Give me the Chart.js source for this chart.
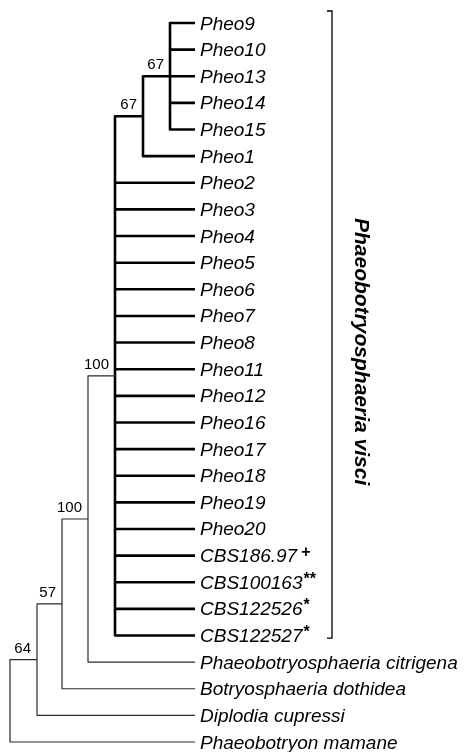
<!DOCTYPE html>
<html>
<head>
<meta charset="utf-8">
<script src="https://cdn.jsdelivr.net/npm/chart.js@4.4.1/dist/chart.umd.min.js"></script>
<style>
html,body{margin:0;padding:0;background:#fff;}
#c{display:block;}
</style>
</head>
<body>
<canvas id="c" width="465" height="752"></canvas>
<script>
// ---- data ----
const leafNames = ['Pheo9','Pheo10','Pheo13','Pheo14','Pheo15','Pheo1','Pheo2','Pheo3','Pheo4','Pheo5',
  'Pheo6','Pheo7','Pheo8','Pheo11','Pheo12','Pheo16','Pheo17','Pheo18','Pheo19','Pheo20',
  'CBS186.97','CBS100163','CBS122526','CBS122527',
  'Phaeobotryosphaeria citrigena','Botryosphaeria dothidea','Diplodia cupressi','Phaeobotryon mamane'];
const leafMarks = ['','','','','','','','','','','','','','','','','','','','','+','**','*','*','','','',''];
const tipDepth = 195;
// internal nodes n0..n6 : depth, children ('nK' = node, number = leaf index), bootstrap support
const nodeDepth = [10, 37, 62, 88, 115, 143, 170];
const nodeChildren = [
  ['n1', 27],
  ['n2', 26],
  ['n3', 25],
  ['n4', 24],
  ['n5', 6,7,8,9,10,11,12,13,14,15,16,17,18,19,20,21,22,23],
  ['n6', 5],
  [0,1,2,3,4]
];
const nodeSupport = [null, 64, 57, 100, 100, 67, 67];
const thickFrom = 4; // nodes n4.. belong to the P. visci clade (thick lines)
const cladeName = 'Phaeobotryosphaeria visci';
const cladeRange = [-0.45, 23.1];
const cladeX = 332;

// ---- derived geometry (in data units) ----
const nodeY = [];
function childPos(c){
  if (typeof c === 'string'){ const k = +c.slice(1); return {x: nodeDepth[k], y: computeY(k)}; }
  return {x: tipDepth, y: c};
}
function computeY(k){
  if (nodeY[k] !== undefined) return nodeY[k];
  const ch = nodeChildren[k].map(childPos);
  nodeY[k] = (ch[0].y + ch[ch.length-1].y) / 2;
  return nodeY[k];
}
nodeDepth.forEach((_, k) => computeY(k));

const datasets = [];
nodeDepth.forEach((nx, k) => {
  const ch = nodeChildren[k].map(childPos);
  const first = ch[0], last = ch[ch.length-1];
  const data = [
    {x: first.x, y: first.y}, {x: nx, y: first.y},
    {x: nx, y: last.y}, {x: last.x, y: last.y}
  ];
  ch.slice(1, -1).forEach(c => {
    data.push({x: nx, y: null});
    data.push({x: nx, y: c.y});
    data.push({x: c.x, y: c.y});
  });
  const thick = k >= thickFrom;
  datasets.push({
    data, showLine: true, spanGaps: false, pointRadius: 0,
    borderColor: thick ? '#000' : '#2a2a2a',
    borderWidth: thick ? 2.6 : 1.2,
    borderJoinStyle: 'round', borderCapStyle: 'butt'
  });
});
// bracket
datasets.push({
  data: [{x: cladeX-5, y: cladeRange[0]}, {x: cladeX, y: cladeRange[0]},
         {x: cladeX, y: cladeRange[1]}, {x: cladeX-5, y: cladeRange[1]}],
  showLine: true, pointRadius: 0, borderColor: '#000', borderWidth: 1.3
});

const labelPlugin = {
  id: 'treeLabels',
  afterDatasetsDraw(chart){
    const ctx = chart.ctx, xs = chart.scales.x, ys = chart.scales.y;
    ctx.save();
    ctx.fillStyle = '#000';
    ctx.textBaseline = 'alphabetic';
    // leaf labels
    leafNames.forEach((name, i) => {
      const px = xs.getPixelForValue(tipDepth) + 5;
      const py = ys.getPixelForValue(i) + 6.5;
      ctx.font = 'italic 19px "Liberation Sans", Arial, sans-serif';
      ctx.textAlign = 'left';
      ctx.fillText(name, px, py);
      if (leafMarks[i]){
        const w = ctx.measureText(name).width;
        ctx.font = 'bold 16px "Liberation Sans", Arial, sans-serif';
        ctx.fillText(leafMarks[i], px + w + (leafMarks[i] === '+' ? 4 : 1), py - 5);
      }
    });
    // support values
    ctx.font = '15px "Liberation Sans", Arial, sans-serif';
    ctx.textAlign = 'right';
    nodeSupport.forEach((s, k) => {
      if (s === null) return;
      const px = xs.getPixelForValue(nodeDepth[k]) - 6;
      const py = ys.getPixelForValue(nodeY[k]) - 7;
      ctx.fillText(String(s), px, py);
    });
    // clade label
    const cy = (ys.getPixelForValue(cladeRange[0]) + ys.getPixelForValue(cladeRange[1])) / 2 + 27;
    ctx.translate(xs.getPixelForValue(cladeX) + 23, cy);
    ctx.rotate(Math.PI / 2);
    ctx.font = 'italic bold 21px "Liberation Sans", Arial, sans-serif';
    ctx.textAlign = 'center';
    ctx.fillText(cladeName, 0, 0);
    ctx.restore();
  }
};

new Chart(document.getElementById('c'), {
  type: 'scatter',
  data: { datasets },
  options: {
    responsive: false,
    animation: false,
    layout: { padding: 0 },
    plugins: { legend: {display: false}, tooltip: {enabled: false} },
    scales: {
      x: { type: 'linear', min: 0, max: 465, display: false },
      y: { type: 'linear', min: -0.864, max: 27.375, reverse: true, display: false }
    }
  },
  plugins: [labelPlugin]
});
</script>
</body>
</html>
